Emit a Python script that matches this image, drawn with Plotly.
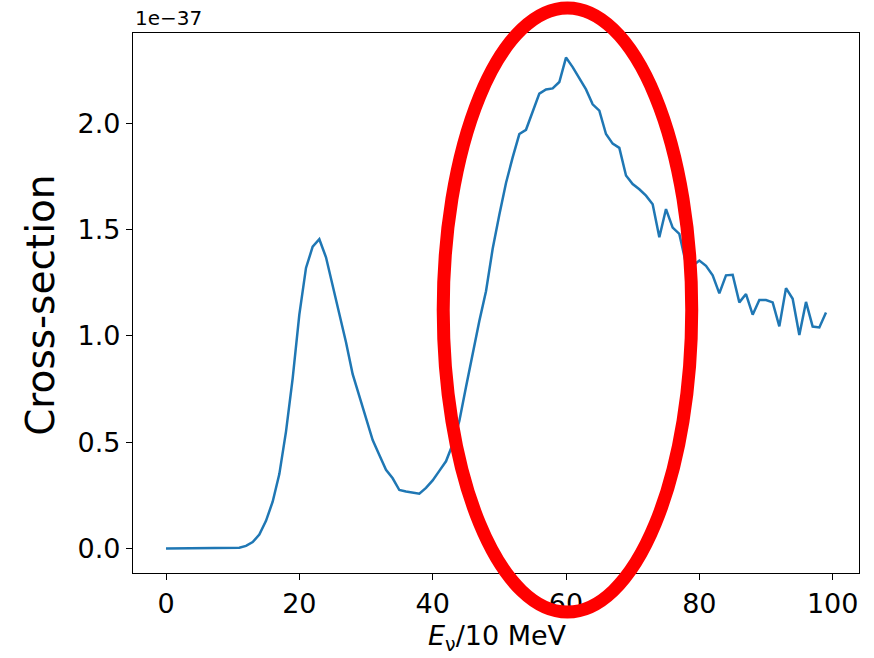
import plotly.graph_objects as go

# Data (cross-section in units of 1e-37)
energy = list(range(100))
cross_section = [
    0, 0, 0, 0, 0, 0, 0, 0, 0, 0,
    0, 0.003, 0.012, 0.03, 0.065, 0.13, 0.22, 0.35, 0.55, 0.80,
    1.10, 1.32, 1.42, 1.455, 1.37, 1.24, 1.10, 0.97, 0.82, 0.72,
    0.62, 0.51, 0.44, 0.37, 0.33, 0.275, 0.268, 0.263, 0.258, 0.285,
    0.32, 0.365, 0.41, 0.49, 0.60, 0.76, 0.92, 1.07, 1.21, 1.41,
    1.57, 1.72, 1.84, 1.95, 1.97, 2.06, 2.14, 2.16, 2.165, 2.195,
    2.31, 2.265, 2.21, 2.16, 2.09, 2.06, 1.95, 1.905, 1.885, 1.755,
    1.715, 1.69, 1.66, 1.62, 1.464, 1.597, 1.51, 1.48, 1.34, 1.33,
    1.355, 1.33, 1.285, 1.20, 1.285, 1.288, 1.158, 1.197, 1.10, 1.169,
    1.169, 1.158, 1.045, 1.225, 1.175, 1.004, 1.16, 1.044, 1.04, 1.11,
]
x_ticks = [0, 20, 40, 60, 80, 100]
y_ticks = [0.0, 0.5, 1.0, 1.5, 2.0]
y_tick_labels = ["0.0", "0.5", "1.0", "1.5", "2.0"]

FONT = "DejaVu Sans"

fig = go.Figure()
fig.add_trace(go.Scatter(
    x=energy, y=cross_section, mode="lines",
    line=dict(color="#1f77b4", width=2.5),
    showlegend=False,
))

ymax = max(cross_section)
ypad = 0.05 * ymax
xpad = 0.05 * (max(energy) - min(energy))

fig.update_layout(
    width=874, height=658,
    margin=dict(l=133, r=15, t=33, b=85),
    paper_bgcolor="white", plot_bgcolor="white",
    font=dict(family=FONT, color="black", size=27),
    xaxis=dict(
        range=[min(energy) - xpad, max(energy) + xpad],
        tickvals=x_ticks, ticktext=[str(t) for t in x_ticks],
        showgrid=False, zeroline=False,
        showline=True, mirror=True, linecolor="black", linewidth=1.3,
        ticks="outside", ticklen=6, tickwidth=1.3, tickcolor="black",
        tickfont=dict(family=FONT, size=27, color="black"),
    ),
    yaxis=dict(
        range=[-ypad, ymax + ypad],
        tickvals=y_ticks, ticktext=y_tick_labels,
        showgrid=False, zeroline=False,
        showline=True, mirror=True, linecolor="black", linewidth=1.3,
        ticks="outside", ticklen=6, tickwidth=1.3, tickcolor="black",
        tickfont=dict(family=FONT, size=27, color="black"),
    ),
    annotations=[
        dict(text="Cross-section", xref="paper", yref="paper",
             x=-0.1285, y=0.496, xanchor="center", yanchor="middle",
             textangle=-90, showarrow=False,
             font=dict(family=FONT, size=39, color="black")),
        dict(text="<i>E</i><sub>ν</sub>/10 MeV", xref="paper", yref="paper",
             x=0.502, y=-0.119, xanchor="center", yanchor="middle",
             showarrow=False, font=dict(family=FONT, size=27, color="black")),
        dict(text="1e−37", xref="paper", yref="paper",
             x=0.0, y=1.028, xanchor="left", yanchor="middle",
             showarrow=False, font=dict(family=FONT, size=20, color="black")),
    ],
    shapes=[
        dict(type="circle", xref="paper", yref="paper",
             x0=0.4273, x1=0.7696, y0=-0.0723, y1=1.0464,
             line=dict(color="#ff0000", width=13), layer="above"),
    ],
)

fig.write_html("out.html")
